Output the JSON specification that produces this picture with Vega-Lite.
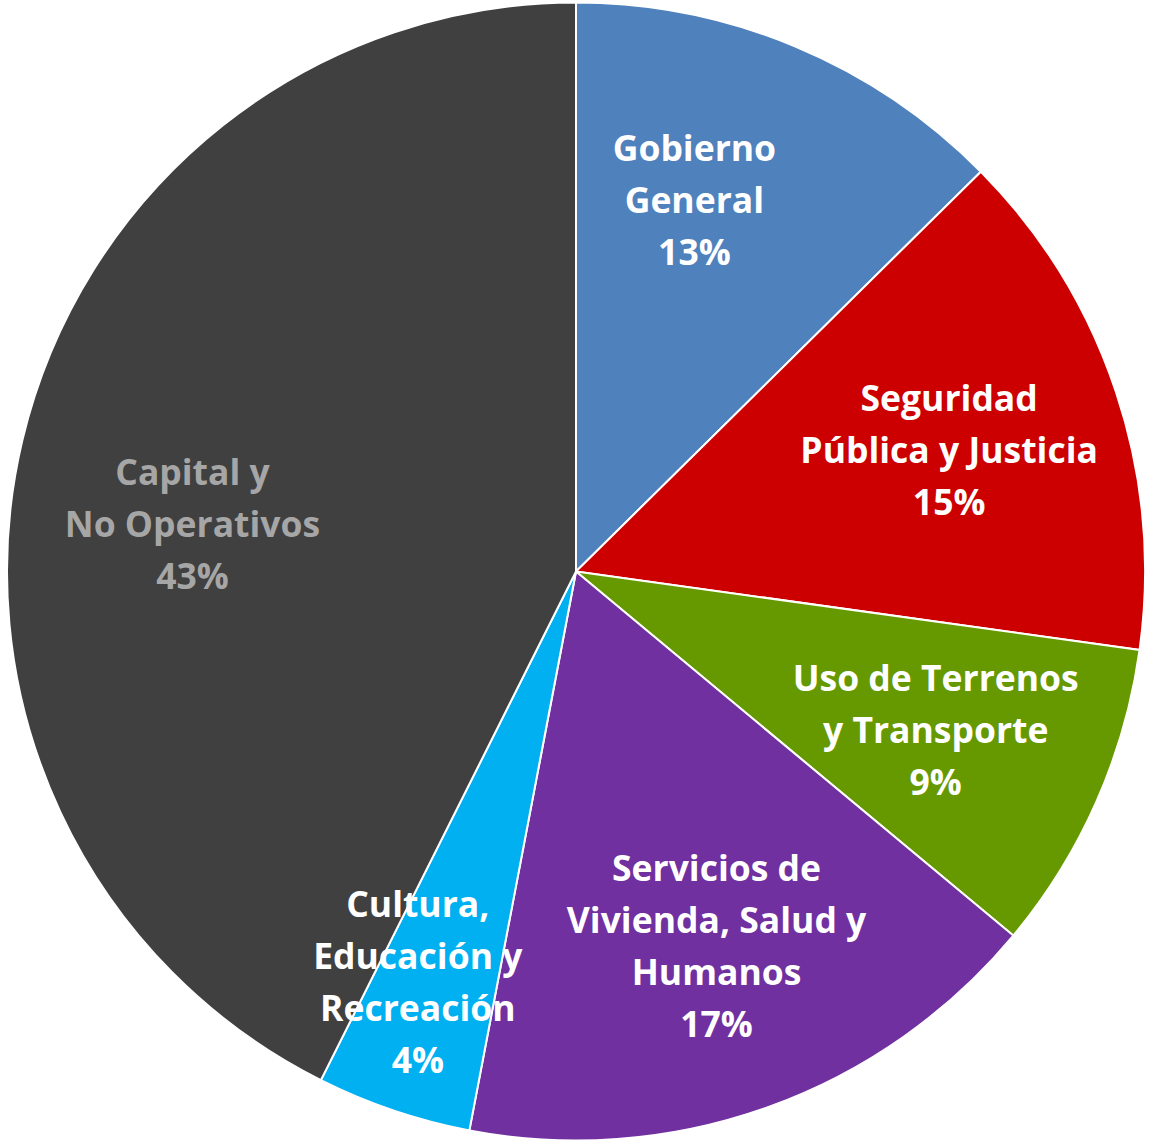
{
  "$schema": "https://vega.github.io/schema/vega-lite/v6.json",
  "width": 1152,
  "height": 1143,
  "autosize": {"type": "fit", "contains": "padding"},
  "padding": 0,
  "background": "white",
  "config": {"view": {"stroke": null}},
  "data": {
    "values": [
      {"categoria": "Gobierno General", "valor": 12.6, "orden": 1, "etiqueta": "Gobierno\nGeneral\n13%"},
      {"categoria": "Seguridad Pública y Justicia", "valor": 14.6, "orden": 2, "etiqueta": "Seguridad\nPública y Justicia\n15%"},
      {"categoria": "Uso de Terrenos y Transporte", "valor": 8.85, "orden": 3, "etiqueta": "Uso de Terrenos\ny Transporte\n9%"},
      {"categoria": "Servicios de Vivienda, Salud y Humanos", "valor": 16.95, "orden": 4, "etiqueta": "Servicios de\nVivienda, Salud y\nHumanos\n17%"},
      {"categoria": "Cultura, Educación y Recreación", "valor": 4.4, "orden": 5, "etiqueta": "Cultura,\nEducación y\nRecreación\n4%"},
      {"categoria": "Capital y No Operativos", "valor": 42.6, "orden": 6, "etiqueta": "Capital y\nNo Operativos\n43%"}
    ]
  },
  "encoding": {
    "theta": {"field": "valor", "type": "quantitative", "stack": true},
    "order": {"field": "orden", "type": "quantitative"}
  },
  "layer": [
    {
      "mark": {"type": "arc", "outerRadius": 569, "stroke": "white", "strokeWidth": 2},
      "encoding": {
        "color": {
          "field": "categoria",
          "type": "nominal",
          "scale": {
            "domain": ["Gobierno General", "Seguridad Pública y Justicia", "Uso de Terrenos y Transporte", "Servicios de Vivienda, Salud y Humanos", "Cultura, Educación y Recreación", "Capital y No Operativos"],
            "range": ["#4f81bd", "#cc0000", "#669900", "#7030a0", "#00b0f0", "#404040"]
          },
          "legend": null
        }
      }
    },
    {
      "mark": {"type": "text", "radius": 390, "dx": 3, "dy": -49, "font": "Open Sans", "fontWeight": "bold", "fontSize": 35.5, "lineHeight": 52, "lineBreak": "\n", "fill": "white", "align": "center", "baseline": "middle"},
      "encoding": {
        "text": {"condition": {"test": "datum.orden == 2 || datum.orden == 3", "field": "etiqueta", "type": "nominal"}, "value": ""}
      }
    },
    {
      "mark": {"type": "text", "radius": 390, "dx": 9, "dy": -69, "font": "Open Sans", "fontWeight": "bold", "fontSize": 35.5, "lineHeight": 52, "lineBreak": "\n", "fill": "white", "align": "center", "baseline": "middle"},
      "encoding": {
        "text": {"condition": {"test": "datum.orden == 4", "field": "etiqueta", "type": "nominal"}, "value": ""}
      }
    },
    {
      "mark": {"type": "text", "radius": 390, "dx": -32, "dy": -62, "font": "Open Sans", "fontWeight": "bold", "fontSize": 35.5, "lineHeight": 52, "lineBreak": "\n", "fill": "white", "align": "center", "baseline": "middle"},
      "encoding": {
        "text": {"condition": {"test": "datum.orden == 1", "field": "etiqueta", "type": "nominal"}, "value": ""}
      }
    },
    {
      "mark": {"type": "text", "radius": 440, "dx": -17, "dy": -82, "font": "Open Sans", "fontWeight": "bold", "fontSize": 35.5, "lineHeight": 52, "lineBreak": "\n", "fill": "white", "align": "center", "baseline": "middle"},
      "encoding": {
        "text": {"condition": {"test": "datum.orden == 5", "field": "etiqueta", "type": "nominal"}, "value": ""}
      }
    },
    {
      "mark": {"type": "text", "radius": 390, "dx": -4, "dy": -8, "font": "Open Sans", "fontWeight": "bold", "fontSize": 35.5, "lineHeight": 52, "lineBreak": "\n", "fill": "#a6a6a6", "align": "center", "baseline": "middle"},
      "encoding": {
        "text": {"condition": {"test": "datum.orden == 6", "field": "etiqueta", "type": "nominal"}, "value": ""}
      }
    }
  ]
}
